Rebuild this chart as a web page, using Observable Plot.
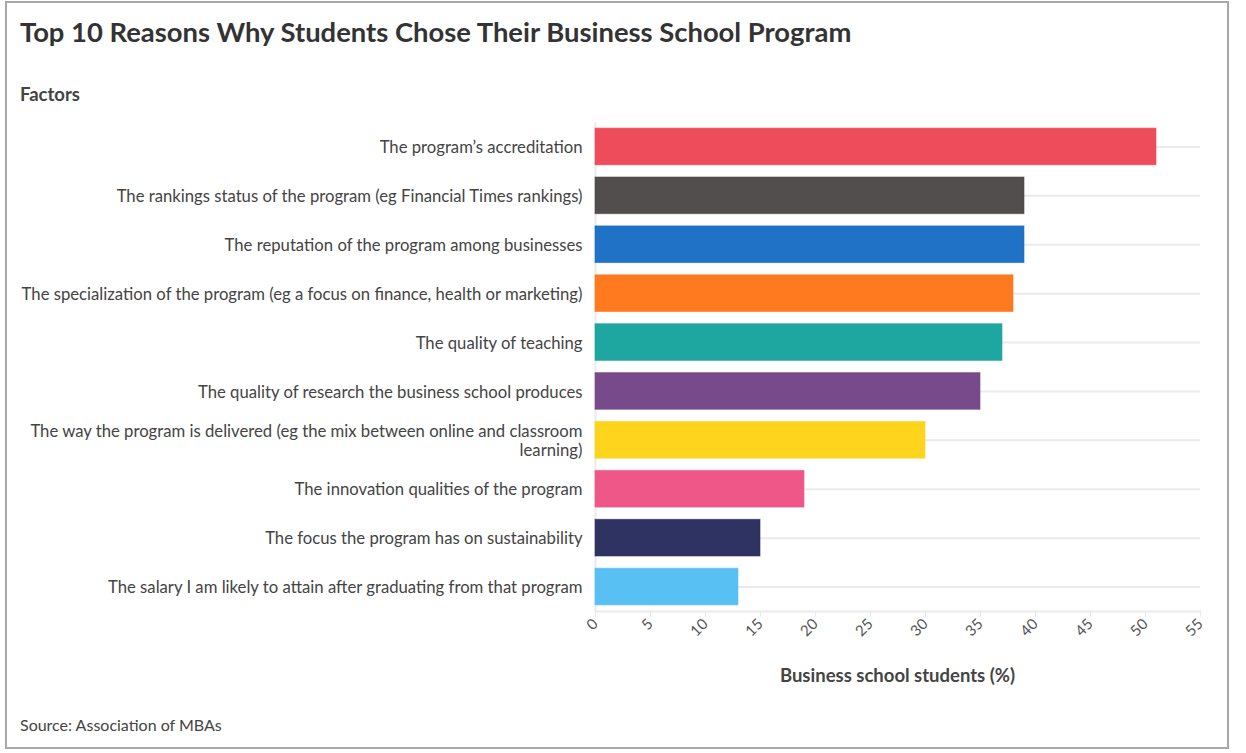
<!DOCTYPE html>
<html><head><meta charset="utf-8">
<script src="https://cdn.jsdelivr.net/npm/d3@7"></script>
<script src="https://cdn.jsdelivr.net/npm/@observablehq/plot@0.6"></script>
<style>
body{margin:0;background:#fff;font-family:Lato,"Open Sans",sans-serif;color:#333;}
#frame{position:absolute;left:5px;top:1px;width:1224px;height:748px;border:2px solid #a8a8a8;box-sizing:border-box;}
#title{position:absolute;left:20px;top:15px;font-size:27.4px;font-weight:700;color:#333;white-space:nowrap;}
#ylabel{position:absolute;left:20px;top:83px;font-size:18.5px;font-weight:700;color:#444;}
#chart{position:absolute;left:0;top:0;}
#xlabel{position:absolute;left:595px;width:605px;top:664px;text-align:center;font-size:18.5px;font-weight:700;color:#444;}
#source{position:absolute;left:20px;top:715px;font-size:16px;color:#444;}
</style>
</head><body>
<div id="frame"></div>
<div id="title">Top 10 Reasons Why Students Chose Their Business School Program</div>
<div id="ylabel">Factors</div>
<div id="chart"></div>
<div id="xlabel">Business school students (%)</div>
<div id="source">Source: Association of MBAs</div>
<script>
const factors = [
  "The program’s accreditation",
  "The rankings status of the program (eg Financial Times rankings)",
  "The reputation of the program among businesses",
  "The specialization of the program (eg a focus on finance, health or marketing)",
  "The quality of teaching",
  "The quality of research the business school produces",
  "The way the program is delivered (eg the mix between online and classroom learning)",
  "The innovation qualities of the program",
  "The focus the program has on sustainability",
  "The salary I am likely to attain after graduating from that program"
];
const percents = [51, 39, 39, 38, 37, 35, 30, 19, 15, 13];
const colors = ["#ef4858", "#4f4a4a", "#1b6fc4", "#ff7619", "#1aa59e", "#744789", "#fed318", "#f05487", "#2b2f5f", "#56bff3"];
const xTicks = [0, 5, 10, 15, 20, 25, 30, 35, 40, 45, 50, 55];

const data = factors.map((f, i) => ({factor: f, value: percents[i], color: colors[i]}));

function wrap(s, max = 80) {
  if (s.length <= max) return s;
  const words = s.split(" ");
  const lines = [];
  let cur = "";
  for (const w of words) {
    if ((cur + " " + w).trim().length > max - 5 && cur) { lines.push(cur); cur = w; }
    else cur = (cur + " " + w).trim();
  }
  if (cur) lines.push(cur);
  return lines.join("\n");
}

const chart = Plot.plot({
  width: 1246,
  height: 700,
  marginLeft: 595,
  marginRight: 46,
  marginTop: 122,
  marginBottom: 89,
  style: {fontFamily: "Lato, 'Open Sans', sans-serif", fontSize: "16px", color: "#444", background: "transparent"},
  x: {domain: [0, 55], ticks: xTicks},
  y: {domain: factors, paddingInner: 0.25, paddingOuter: 0.125, round: false, label: null},
  marks: [
    Plot.ruleY(factors, {y: d => d, stroke: "#ebebeb", strokeWidth: 2}),
    Plot.ruleX([0], {stroke: "#ebebeb", strokeWidth: 2}),
    Plot.barX(data, {y: "factor", x: "value", fill: "color", stroke: "color", strokeOpacity: 0.6, fillOpacity: 0.98}),
    Plot.frame({anchor: "bottom", stroke: "#ebebeb", strokeWidth: 2}),
    Plot.axisX({ticks: xTicks, tickRotate: -45, tickSize: 6, stroke: "#ebebeb", label: null, fontSize: 15, fill: "#555", tickPadding: 4}),
    Plot.axisY({tickSize: 0, tickPadding: 13, label: null, fontSize: 16.7, lineHeight: 1.15, fill: "#444", tickFormat: d => wrap(d)})
  ]
});
document.getElementById("chart").appendChild(chart);
</script>
</body></html>
